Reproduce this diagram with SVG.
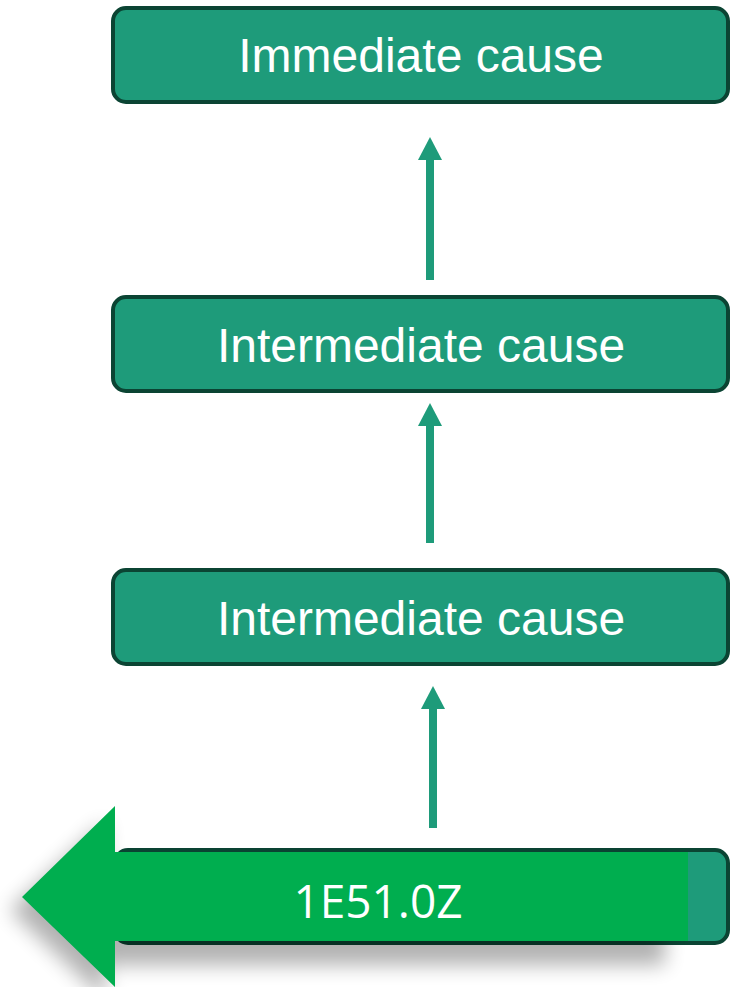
<svg xmlns="http://www.w3.org/2000/svg" width="733" height="987" viewBox="0 0 733 987">
<defs>
<style>
.box{fill:#1E9B7A;stroke:#0B4433;stroke-width:4}
.lbl{font-family:"Liberation Sans",Arial,sans-serif;font-size:48px;fill:#ffffff;text-anchor:middle}
.code{font-family:"Open Sans","Noto Sans",sans-serif;font-size:46px;fill:#ffffff;text-anchor:middle}
.conn{stroke:#1E9B7A;stroke-width:8;fill:none}
.head{fill:#1E9B7A}
</style>
<filter id="sh" x="-20%" y="-20%" width="140%" height="160%">
<feGaussianBlur stdDeviation="10"/>
</filter>
</defs>
<g id="node-immediate">
<rect class="box" x="113" y="8" width="615" height="94" rx="13"/>
<text class="lbl" x="421" y="72">Immediate cause</text>
</g>
<g id="node-intermediate-1">
<rect class="box" x="113" y="297" width="615" height="94" rx="13"/>
<text class="lbl" x="421" y="362">Intermediate cause</text>
</g>
<g id="node-intermediate-2">
<rect class="box" x="113" y="570" width="615" height="94" rx="13"/>
<text class="lbl" x="421" y="635">Intermediate cause</text>
</g>
<g id="connectors">
<line class="conn" x1="430" y1="280" x2="430" y2="158"/>
<polygon class="head" points="418,160 442,160 430,137"/>
<line class="conn" x1="430" y1="543" x2="430" y2="424"/>
<polygon class="head" points="418,426 442,426 430,403"/>
<line class="conn" x1="433" y1="828" x2="433" y2="707"/>
<polygon class="head" points="421,709 445,709 433,686"/>
</g>
<g id="node-code">
<rect class="box" x="115" y="850" width="613" height="93" rx="13"/>
<path d="M10,910 L105,822 L105,868 L665,868 L665,965 L105,965 L105,1000 Z" fill="#000" opacity="0.3" filter="url(#sh)"/>
<polygon points="22,897 115,806 115,852 688,852 688,941 115,941 115,987" fill="#00AE4F"/>
<text class="code" x="378" y="918">1E51.0Z</text>
</g>
</svg>
